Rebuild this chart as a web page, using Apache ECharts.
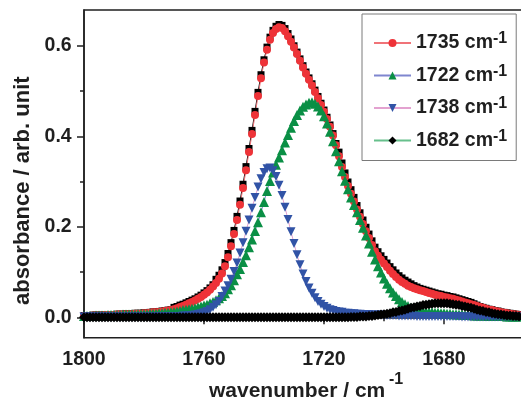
<!DOCTYPE html>
<html>
<head>
<meta charset="utf-8">
<script src="https://cdn.jsdelivr.net/npm/echarts@6/dist/echarts.min.js"></script>
<style>
  html, body { margin: 0; padding: 0; background: #fff; }
  #chart { width: 521px; height: 400px; }
</style>
</head>
<body>
<div id="chart"></div>
<script>
// Sampling grid: 1800 down to 1655 cm-1, one point per wavenumber
const wavenumber = [];
for (let w = 1800; w >= 1655; w--) wavenumber.push(w);

// Measured absorbance (black squares), 1800 -> 1655
const measured = [
  .004, .004, .004, .005, .005, .005, .005, .006, .006, .006,
  .006, .007, .007, .007, .008, .008, .008, .009, .009, .009,
  .010, .010, .011, .012, .012, .013, .014, .015, .016, .017,
  .022, .024, .027, .029, .032, .035, .038, .041, .045, .049,
  .054, .059, .065, .072, .084, .093, .105, .121, .141, .165,
  .192, .223, .257, .294, .333, .373, .413, .455, .497, .536,
  .569, .597, .619, .634, .643, .647, .645, .638, .627, .615,
  .600, .586, .571, .556, .542, .529, .516, .502, .488, .473,
  .458, .442, .425, .406, .384, .365, .341, .319, .299, .282,
  .265, .247, .231, .215, .199, .184, .169, .155, .145, .136,
  .128, .120, .112, .105, .098, .092, .087, .082, .078, .074,
  .070, .067, .064, .062, .060, .058, .056, .054, .052, .051,
  .049, .048, .046, .045, .043, .041, .039, .037, .035, .033,
  .030, .027, .024, .022, .020, .018, .017, .015, .014, .012,
  .011, .010, .009, .008, .007, .006
];

// Fitted envelope, labelled 1735 cm-1 (red circles)
const band1735 = [
  .003, .003, .003, .004, .004, .004, .004, .005, .005, .005,
  .005, .006, .006, .006, .007, .007, .007, .008, .008, .008,
  .009, .009, .010, .011, .011, .012, .013, .014, .015, .016,
  .018, .020, .023, .025, .028, .031, .034, .037, .041, .045,
  .050, .055, .061, .068, .076, .085, .097, .113, .133, .157,
  .184, .215, .249, .286, .325, .365, .405, .447, .489, .528,
  .563, .591, .613, .628, .637, .641, .639, .632, .621, .609,
  .596, .582, .567, .552, .538, .525, .512, .498, .484, .469,
  .454, .438, .421, .402, .380, .356, .332, .310, .290, .273,
  .256, .238, .222, .206, .190, .175, .160, .146, .136, .127,
  .119, .111, .103, .096, .089, .083, .078, .074, .070, .067,
  .064, .062, .060, .058, .056, .054, .052, .050, .048, .047,
  .045, .044, .042, .041, .039, .037, .035, .033, .031, .029,
  .027, .025, .023, .021, .019, .017, .016, .014, .013, .011,
  .010, .009, .008, .007, .006, .005
];

// Component band at 1722 cm-1 (green triangles)
const band1722 = [
  .003, .003, .003, .003, .004, .004, .004, .004, .005, .005,
  .005, .005, .005, .006, .006, .006, .006, .006, .007, .007,
  .007, .007, .008, .008, .008, .009, .009, .010, .010, .011,
  .012, .013, .014, .016, .017, .018, .019, .020, .022, .024,
  .026, .028, .031, .034, .038, .042, .047, .053, .062, .071,
  .082, .095, .107, .122, .137, .155, .172, .191, .210, .232,
  .255, .279, .301, .320, .337, .353, .369, .386, .403, .419,
  .434, .447, .457, .465, .470, .474, .475, .472, .466, .457,
  .444, .428, .410, .389, .367, .345, .323, .302, .283, .265,
  .248, .232, .215, .198, .181, .163, .145, .128, .113, .099,
  .086, .074, .064, .055, .047, .040, .034, .029, .025, .021,
  .018, .016, .014, .013, .012, .011, .011, .010, .010, .009,
  .009, .008, .008, .007, .007, .006, .006, .005, .005, .005,
  .004, .004, .004, .004, .004, .003, .003, .003, .003, .003,
  .003, .002, .002, .002, .002, .002
];

// Component band at 1738 cm-1 (blue down-triangles)
const band1738 = [
  .001, .001, .001, .001, .001, .001, .001, .001, .001, .001,
  .001, .001, .001, .001, .001, .001, .001, .001, .001, .001,
  .001, .001, .001, .001, .001, .002, .002, .002, .002, .002,
  .002, .002, .002, .003, .003, .003, .004, .005, .006, .008,
  .010, .013, .017, .022, .028, .035, .046, .058, .070, .084,
  .101, .120, .142, .165, .190, .215, .241, .265, .288, .306,
  .320, .328, .330, .324, .311, .292, .269, .243, .216, .189,
  .163, .138, .116, .096, .079, .065, .053, .043, .035, .029,
  .024, .020, .017, .015, .013, .012, .011, .009, .009, .008,
  .008, .007, .007, .006, .006, .006, .005, .005, .005, .005,
  .004, .004, .004, .004, .004, .003, .003, .003, .003, .003,
  .003, .002, .002, .002, .002, .002, .002, .002, .002, .002,
  .002, .002, .002, .002, .002, .002, .001, .001, .001, .001,
  .001, .001, .001, .001, .001, .001, .001, .001, .001, .001,
  .001, .001, .001, .001, .001, .001
];

// Component band at 1682 cm-1 (black diamonds)
const band1682 = [
  0, 0, 0, 0, 0, 0, 0, 0, 0, 0,
  0, 0, 0, 0, 0, 0, 0, 0, 0, 0,
  0, 0, 0, 0, 0, 0, 0, 0, 0, 0,
  0, 0, 0, 0, 0, 0, 0, 0, 0, 0,
  0, 0, 0, 0, 0, 0, 0, 0, 0, 0,
  0, 0, 0, 0, 0, 0, 0, 0, 0, 0,
  0, 0, 0, 0, 0, 0, 0, 0, 0, 0,
  0, 0, 0, 0, 0, 0, 0, 0, 0, 0,
  0, 0, 0, 0, 0, 0, 0, 0, 0, .001,
  .001, .001, .002, .002, .002, .003, .003, .004, .005, .006,
  .007, .008, .009, .011, .012, .014, .015, .017, .019, .021,
  .022, .024, .025, .027, .028, .029, .030, .031, .031, .031,
  .031, .031, .030, .029, .028, .027, .025, .024, .022, .021,
  .019, .017, .015, .014, .012, .011, .009, .008, .007, .006,
  .005, .004, .004, .003, .003, .002
];

const legendNames = ['1735', '1722', '1738', '1682'];
const yMajorTicks = [0, 0.2, 0.4, 0.6];
const yMinorTicks = [0.1, 0.3, 0.5];

const FONT = '"Liberation Sans", Arial, Helvetica, sans-serif';
const INK = '#1f1f1f';

const pairs = arr => wavenumber.map((w, i) => [w, arr[i]]);

const chart = echarts.init(document.getElementById('chart'), null, { renderer: 'canvas' });

function lineSeries(name, values, symbol, size, markerColor, lineColor) {
  return {
    name: name,
    type: 'line',
    data: pairs(values),
    symbol: symbol,
    symbolSize: size,
    showSymbol: true,
    showAllSymbol: true,
    itemStyle: { color: markerColor, borderWidth: 0 },
    lineStyle: { color: lineColor, width: 1 },
    emphasis: { disabled: true },
    silent: true,
    animation: false
  };
}

chart.setOption({
  animation: false,
  grid: {
    left: 84, top: 10, right: -43, bottom: 62.3,
    show: true, borderColor: INK, borderWidth: 1.5,
    outerBoundsMode: 'none', containLabel: false
  },
  xAxis: {
    type: 'value', inverse: true, min: 1640, max: 1800, interval: 40,
    axisLine: { show: true, lineStyle: { color: INK, width: 1.5 } },
    axisTick: { show: true, inside: false, length: 7, lineStyle: { color: INK, width: 1.5 } },
    minorTick: { show: true, splitNumber: 2, length: 4, lineStyle: { color: INK, width: 1.5 } },
    splitLine: { show: false },
    minorSplitLine: { show: false },
    axisLabel: {
      formatter: v => String(Math.round(v)),
      fontSize: 19.5, fontWeight: 'bold', fontFamily: FONT, color: INK, margin: 11.5
    }
  },
  yAxis: [
    {
      type: 'value', min: -0.045, max: 0.679,
      axisLine: { show: true, lineStyle: { color: INK, width: 1.5 } },
      axisTick: { show: true, inside: false, length: 7, customValues: yMajorTicks, lineStyle: { color: INK, width: 1.5 } },
      splitLine: { show: false },
      axisLabel: {
        customValues: yMajorTicks,
        formatter: v => v.toFixed(1),
        fontSize: 19.5, fontWeight: 'bold', fontFamily: FONT, color: INK, margin: 12.3
      }
    },
    {
      type: 'value', min: -0.045, max: 0.679, position: 'left',
      axisLine: { show: false },
      axisTick: { show: true, inside: false, length: 4, customValues: yMinorTicks, lineStyle: { color: INK, width: 1.5 } },
      splitLine: { show: false },
      axisLabel: { show: false }
    }
  ],
  legend: {
    data: legendNames,
    orient: 'vertical',
    left: 362, top: 14,
    backgroundColor: '#fff',
    borderColor: '#7a7a7a', borderWidth: 1,
    padding: [17, 9, 10, 11],
    itemWidth: 37, itemHeight: 10, itemGap: 10.5,
    selectedMode: false,
    formatter: name => '{m|' + name + ' cm}{s|-1}',
    textStyle: {
      rich: {
        m: { fontSize: 19.5, fontWeight: 'bold', fontFamily: FONT, color: INK, lineHeight: 24 },
        s: { fontSize: 16, fontWeight: 'bold', fontFamily: FONT, color: INK, lineHeight: 10, verticalAlign: 'top' }
      }
    }
  },
  graphic: [
    {
      type: 'text', x: 23, y: 190.7, rotation: Math.PI / 2, silent: true,
      style: { text: 'absorbance / arb. unit', fontSize: 22, fontWeight: 'bold', fontFamily: FONT, fill: INK, align: 'center', verticalAlign: 'middle' }
    },
    {
      type: 'text', x: 209, y: 391, silent: true,
      style: { text: 'wavenumber / cm', fontSize: 21, fontWeight: 'bold', fontFamily: FONT, fill: INK, align: 'left', verticalAlign: 'middle' }
    },
    {
      type: 'text', x: 389, y: 379.5, silent: true,
      style: { text: '-1', fontSize: 16, fontWeight: 'bold', fontFamily: FONT, fill: INK, align: 'left', verticalAlign: 'middle' }
    }
  ],
  series: [
    lineSeries('measured', measured, 'rect', 7, '#000000', '#000000'),
    lineSeries('1735', band1735, 'circle', 8, '#ee3338', '#f07378'),
    lineSeries('1722', band1722, 'triangle', 10, '#0a8f45', '#7f86cf'),
    lineSeries('1738', band1738, 'path://M0,0L10,0L5,9Z', 9, '#3153a6', '#e3a2d0'),
    lineSeries('1682', band1682, 'diamond', 10, '#000000', '#67c08c')
  ]
});
</script>
</body>
</html>
